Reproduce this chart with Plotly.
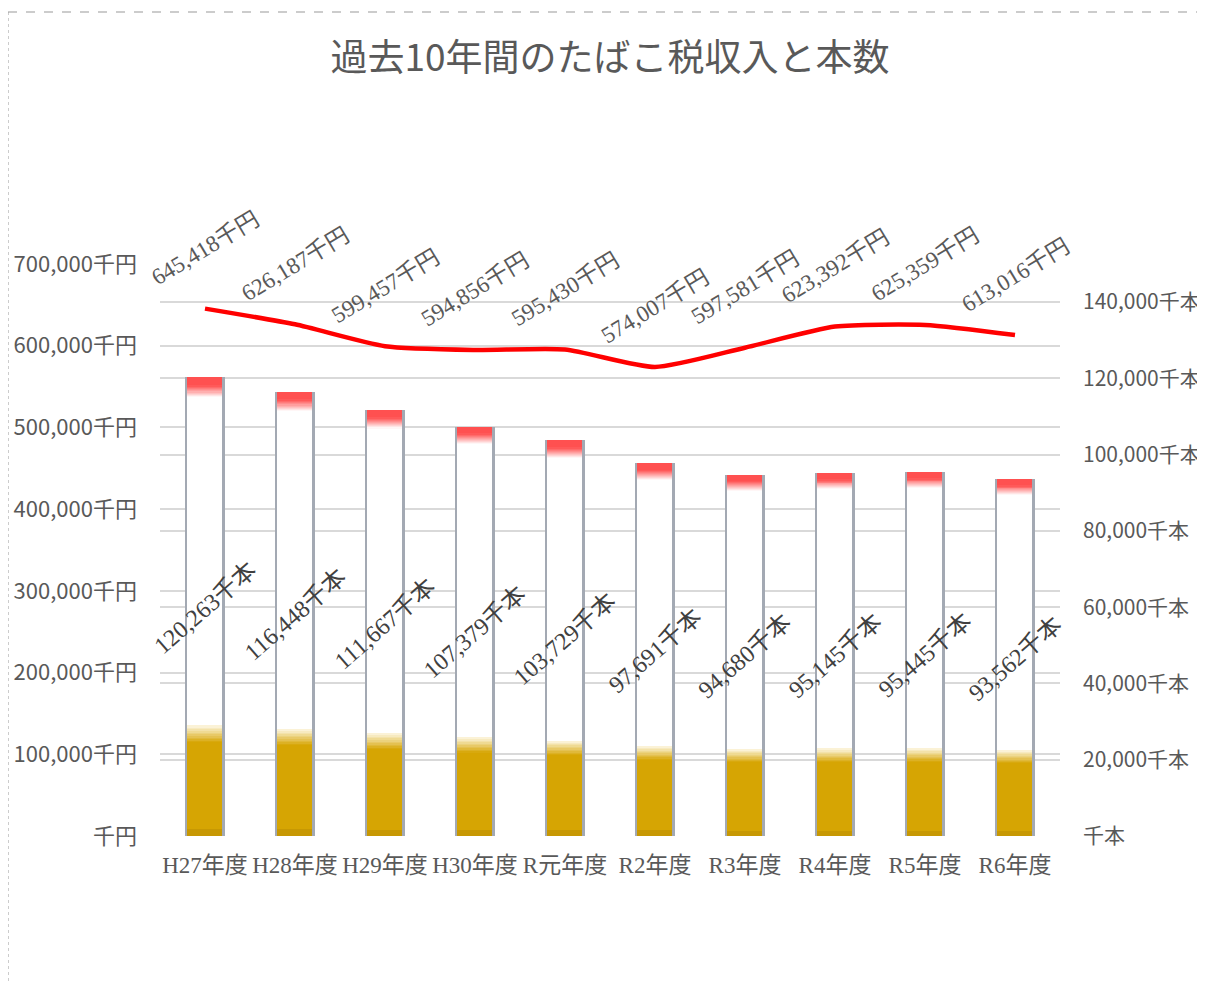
import plotly.graph_objects as go

categories = ["H27年度", "H28年度", "H29年度", "H30年度", "R元年度",
              "R2年度", "R3年度", "R4年度", "R5年度", "R6年度"]
tax_revenue = [645418, 626187, 599457, 594856, 595430,
               574007, 597581, 623392, 625359, 613016]   # 千円
stick_counts = [120263, 116448, 111667, 107379, 103729,
                97691, 94680, 95145, 95445, 93562]        # 千本

left_ticks = [0, 100000, 200000, 300000, 400000, 500000, 600000, 700000]
right_ticks = [0, 20000, 40000, 60000, 80000, 100000, 120000, 140000]

GREY = "#595959"
SANS = "Noto Sans CJK JP, Noto Sans, sans-serif"
SERIF = "Liberation Serif, DejaVu Serif, Noto Sans CJK JP, serif"

W, H = 1197, 974
L, T, PW, PH = 152, 256, 900, 572

BW = 0.41
OFF = -BW / 2

fig = go.Figure()


def seg(lo, hi, color):
    base = [v * lo for v in stick_counts]
    h = [v * (hi - lo) for v in stick_counts]
    fig.add_trace(go.Bar(x=categories, y=h, base=base, width=BW, offset=OFF,
                         marker=dict(color=color, line=dict(width=0)),
                         yaxis="y", hoverinfo="skip", showlegend=False))


def mix(c1, c2, t):
    return "rgb({},{},{})".format(*[round(a + (b - a) * t) for a, b in zip(c1, c2)])


# cigarette body (white)
fig.add_trace(go.Bar(x=categories, y=stick_counts, width=BW, offset=OFF,
                     marker=dict(color="white", line=dict(width=0)),
                     yaxis="y", name="本数", showlegend=False,
                     hovertemplate="%{x}: %{y:,}千本<extra></extra>"))
# filter (gold) with soft fade at top
seg(0.0, 0.015, "#C79803")
seg(0.015, 0.205, "#D6A503")
GOLD, WHITE, RED = (214, 165, 3), (255, 255, 255), (255, 80, 80)
n = 10
for i in range(n):
    lo = 0.205 + 0.036 * i / n
    hi = 0.205 + 0.036 * (i + 1) / n
    seg(lo, hi, mix(GOLD, (253, 246, 225), (i + 0.5) / n))
# burning tip (red) fading downward
for i in range(n):
    lo = 0.958 + 0.025 * i / n
    hi = 0.958 + 0.025 * (i + 1) / n
    seg(lo, hi, mix(WHITE, RED, (i + 0.5) / n))
seg(0.983, 1.0, "#FF5050")

# side edges
for off in (OFF - 0.012, OFF + BW - 0.008):
    fig.add_trace(go.Bar(x=categories, y=stick_counts, width=0.02, offset=off,
                         marker=dict(color="#A3A9B3", line=dict(width=0)),
                         yaxis="y", hoverinfo="skip", showlegend=False))

# revenue line
fig.add_trace(go.Scatter(x=categories, y=tax_revenue, mode="lines",
                         line=dict(color="#FF0000", width=4.5, shape="spline", smoothing=0.6),
                         yaxis="y2", name="税収入", showlegend=False,
                         hovertemplate="%{x}: %{y:,}千円<extra></extra>"))

annotations = []
for c, v in zip(categories, tax_revenue):
    annotations.append(dict(x=c, y=v, xref="x", yref="y2", text=f"{v:,}千円",
                            showarrow=False, textangle=-31, yshift=60,
                            font=dict(family=SERIF, size=23, color=GREY)))
for c, v in zip(categories, stick_counts):
    annotations.append(dict(x=c, y=v / 2, xref="x", yref="y", text=f"{v:,}千本",
                            showarrow=False, textangle=-41, yshift=-1,
                            font=dict(family=SERIF, size=24, color="#404040")))

fig.update_layout(
    width=W, height=H,
    margin=dict(l=L, r=W - L - PW, t=T, b=H - T - PH, autoexpand=False),
    paper_bgcolor="white", plot_bgcolor="white",
    barmode="overlay", bargap=0,
    title=dict(text="過去10年間のたばこ税収入と本数", x=(610 - 8) / W, xanchor="center",
               y=1 - (58 - 8) / H, yanchor="middle", yref="container",
               font=dict(family=SANS, size=37, color=GREY)),
    xaxis=dict(type="category", range=[-0.5, 9.5], showgrid=False, showline=False,
               zeroline=False, ticks="", ticklabelstandoff=13, tickangle=0,
               automargin=False,
               tickfont=dict(family=SERIF, size=23, color=GREY)),
    yaxis=dict(side="right", range=[0, 150000], tickvals=right_ticks,
               ticktext=["千本" if t == 0 else f"{t:,}千本" for t in right_ticks],
               showgrid=True, gridcolor="#D9D9D9", gridwidth=1.5, zeroline=False,
               showline=False, ticks="", ticklabelstandoff=22, automargin=False,
               tickfont=dict(family=SANS, size=21, color=GREY)),
    yaxis2=dict(side="left", overlaying="y", range=[0, 700000], tickvals=left_ticks,
                ticktext=["千円" if t == 0 else f"{t:,}千円" for t in left_ticks],
                showgrid=True, gridcolor="#D9D9D9", gridwidth=1.5, zeroline=False,
                showline=False, ticks="", ticklabelstandoff=22, automargin=False,
                tickfont=dict(family=SANS, size=22, color=GREY)),
    annotations=annotations,
    shapes=[
        dict(type="line", xref="paper", yref="paper",
             x0=(0 - L) / PW, x1=(0 - L) / PW,
             y0=(T + PH - 4) / PH, y1=(T + PH - H - 5) / PH,
             line=dict(color="#999999", width=1, dash="dot")),
        dict(type="line", xref="paper", yref="paper",
             x0=(0 - L) / PW, x1=(W + 5 - L) / PW,
             y0=(T + PH - 4) / PH, y1=(T + PH - 4) / PH,
             line=dict(color="#999999", width=1, dash="dash")),
    ],
)

fig.write_html("out.html")
